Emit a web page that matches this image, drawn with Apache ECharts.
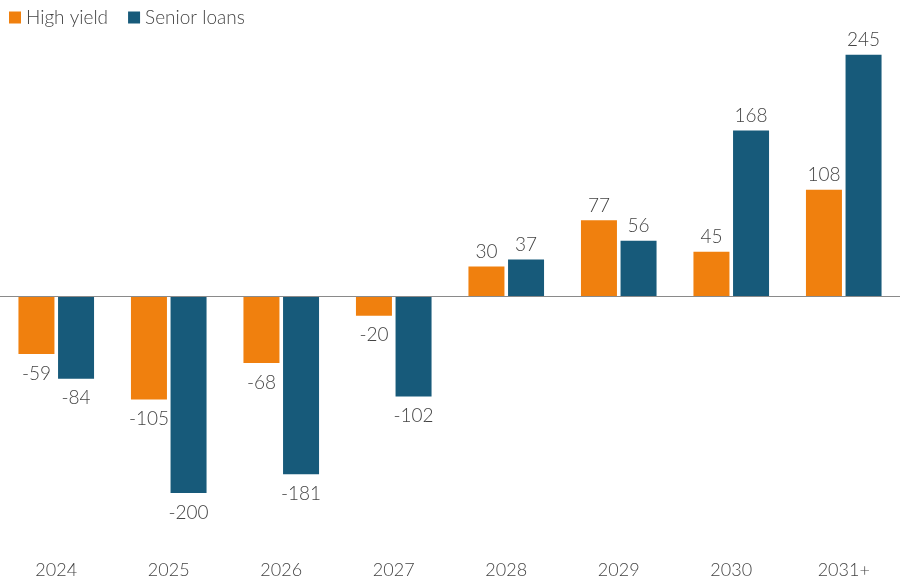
<!DOCTYPE html>
<html><head><meta charset="utf-8">
<script src="https://cdn.jsdelivr.net/npm/echarts@6/dist/echarts.min.js"></script>
<style>html,body{margin:0;padding:0;background:#fff}#c{width:900px;height:582px}</style>
</head><body><div id="c"></div>
<script>
const categories = ['2024','2025','2026','2027','2028','2029','2030','2031+'];
const highYield = [-59,-105,-68,-20,30,77,45,108];
const seniorLoans = [-84,-200,-181,-102,37,56,168,245];
const seriesNames = ['High yield','Senior loans'];

const FONT = 'Lato, "Open Sans", sans-serif';
const TXT = '#444444';
const W = 300;
function lbl(){
  return {
    show: true,
    position: 'top',
    distance: 5,
    fontFamily: FONT, fontSize: 19, fontWeight: W, color: TXT,
    formatter: p => String(p.value)
  };
}
function mkData(arr){
  return arr.map(v => ({value: v, label: v < 0 ? {position: 'bottom', distance: 10} : {position: 'top', distance: 5}}));
}
const chart = echarts.init(document.getElementById('c'), null, {renderer:'canvas'});
chart.setOption({
  animation: false,
  textStyle: {fontFamily: FONT},
  legend: {
    left: 4, top: 3, icon: 'rect', itemWidth: 12, itemHeight: 12, itemGap: 20,
    textStyle: {fontFamily: FONT, fontSize: 19, fontWeight: W, color: TXT},
    data: seriesNames
  },
  grid: {left: 0, right: 0, top: 40, bottom: 30, containLabel: false},
  xAxis: {
    type: 'category', data: categories,
    axisLine: {show: false, onZero: false},
    axisTick: {show: false},
    axisLabel: {fontFamily: FONT, fontSize: 18, fontWeight: W, color: TXT, margin: 9}
  },
  yAxis: {
    type: 'value', min: -260, max: 260, show: false,
    splitLine: {show: false}
  },
  series: [
    {
      name: seriesNames[0], type: 'bar', data: mkData(highYield),
      barWidth: 36, barGap: '10%',
      itemStyle: {color: '#F0800E'},
      label: lbl(),
      markLine: {
        silent: true, symbol: 'none',
        lineStyle: {color: '#8a8a8a', width: 1, type: 'solid'},
        label: {show: false},
        data: [{yAxis: 0}]
      }
    },
    {
      name: seriesNames[1], type: 'bar', data: mkData(seniorLoans),
      barWidth: 36,
      itemStyle: {color: '#175A7A'},
      label: lbl()
    }
  ]
});
</script></body></html>
